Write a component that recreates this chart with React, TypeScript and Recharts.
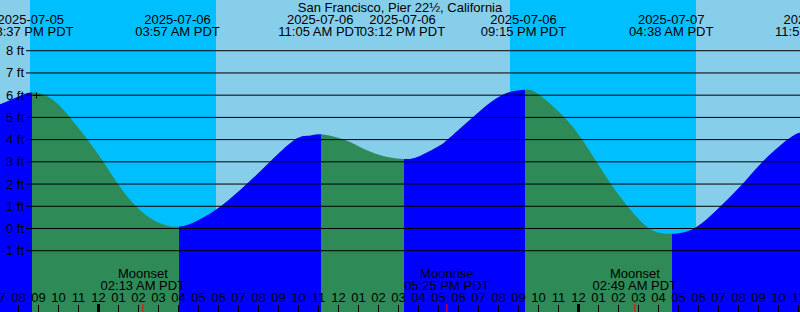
import React from 'react';
import {
  AreaChart,
  Area,
  XAxis,
  YAxis,
  ReferenceArea,
  ReferenceLine,
  ReferenceDot,
} from 'recharts';

// ---------- data (hours measured from 2025-07-06 00:00 PDT) ----------
const X_MIN = -4.925;
const X_MAX = 35.075;
const Y_MIN = -3.758;
const Y_MAX = 10.283;

const tideHours = [
  -4.925, -4.0, -3.34, -2.4, -1.425, -0.56, 0.24, 0.97, 1.875, 2.9, 4.0, 5.0, 6.11,
  7.41, 8.575, 9.825, 10.5, 11.12, 12.33, 13.33, 14.33, 15.27, 16.0, 17.0, 17.45,
  18.7, 20.16, 21.32, 22.0, 23.3, 24.18, 24.9, 25.62, 26.45, 27.55, 28.66, 29.83,
  31.1, 32.2, 33.2, 34.45, 35.075,
];
const tideFeet = [
  5.59, 5.94, 6.12, 5.86, 5.0, 4.0, 3.0, 2.0, 1.0, 0.3, 0.08, 0.38, 1.0,
  2.0, 3.0, 4.0, 4.17, 4.24, 3.98, 3.55, 3.24, 3.13, 3.24, 3.7, 4.0,
  5.0, 6.0, 6.24, 6.04, 5.0, 4.0, 3.0, 2.0, 1.0, 0.0, -0.24, 0.03,
  1.0, 2.0, 3.0, 4.0, 4.32,
];

// turning points of the curve (high, low, high, low, high, low)
const turnHours = [-3.34, 4.0, 11.12, 15.27, 21.32, 28.66];

const eventHours = [-3.383, 3.95, 11.083, 15.2, 21.25, 28.633, 35.917];
const eventDates = [
  '2025-07-05', '2025-07-06', '2025-07-06', '2025-07-06', '2025-07-06', '2025-07-07', '2025-07-07',
];
const eventTimes = [
  '08:37 PM PDT', '03:57 AM PDT', '11:05 AM PDT', '03:12 PM PDT', '09:15 PM PDT', '04:38 AM PDT', '11:55 AM PDT',
];

const nightStart = [-3.425, 20.575];
const nightEnd = [5.875, 29.875];

const moonHours = [2.217, 17.417, 26.817];
const moonNames = ['Moonset', 'Moonrise', 'Moonset'];
const moonTimes = ['02:13 AM PDT', '05:25 PM PDT', '02:49 AM PDT'];

const footTicks = [-1, 0, 1, 2, 3, 4, 5, 6, 7, 8];
const hourTicks = [
  -5, -4, -3, -2, -1, 0, 1, 2, 3, 4, 5, 6, 7, 8, 9, 10, 11, 12, 13, 14, 15, 16, 17, 18, 19,
  20, 21, 22, 23, 24, 25, 26, 27, 28, 29, 30, 31, 32, 33, 34, 35,
];

const markHour = -3.15;
const markFeet = 6.03;
const lineStartHour = -3.625;

const title = 'San Francisco, Pier 22\u00bd, California';

// ---------- styling ----------
const W = 800;
const H = 312;
const FONT = "'Liberation Sans', Arial, sans-serif";
const FS = 13;
const DAY = '#87CEEB';
const NIGHT = '#00BFFF';
const RISE = '#0000FF';
const FALL = '#2E8B57';

const tideData = tideHours.map((t, i) => ({ t, ft: tideFeet[i] }));

const bounds = [X_MIN, ...turnHours, X_MAX];
const frac = (t: number) => (t - X_MIN) / (X_MAX - X_MIN);

const HourTick = (props: any) => {
  const { x, payload } = props;
  const v = payload.value as number;
  const hod = ((v % 24) + 24) % 24;
  const h12 = hod % 12 === 0 ? 12 : hod % 12;
  const label = String(h12).padStart(2, '0');
  const midnight = hod === 0;
  return (
    <g>
      <text x={x} y={302} textAnchor="middle" fontSize={FS} fontFamily={FONT} fill="#000">
        {label}
      </text>
      <line
        x1={x}
        x2={x}
        y1={midnight ? 304 : 305}
        y2={312}
        stroke="#000"
        strokeWidth={midnight ? 3 : 1}
      />
    </g>
  );
};

const MoonTick = (props: any) => {
  const { x, index } = props;
  return (
    <g>
      <text x={x} y={278} textAnchor="middle" fontSize={FS} fontFamily={FONT} fill="#000">
        {moonNames[index]}
      </text>
      <text x={x} y={290} textAnchor="middle" fontSize={FS} fontFamily={FONT} fill="#000">
        {moonTimes[index]}
      </text>
      <line x1={x} x2={x} y1={304} y2={312} stroke="#FF0000" strokeWidth={1} />
    </g>
  );
};

const EventTick = (props: any) => {
  const { x, index } = props;
  return (
    <g>
      <text x={x} y={24} textAnchor="middle" fontSize={FS} fontFamily={FONT} fill="#000">
        {eventDates[index]}
      </text>
      <text x={x} y={36} textAnchor="middle" fontSize={FS} fontFamily={FONT} fill="#000">
        {eventTimes[index]}
      </text>
    </g>
  );
};

const FootTick = (props: any) => {
  const { y, payload } = props;
  return (
    <text x={24} y={y + 4.5} textAnchor="end" fontSize={FS} fontFamily={FONT} fill="#000">
      {`${payload.value} ft`}
    </text>
  );
};

const PlusMark = (props: any) => {
  const { cx, cy } = props;
  const x = Math.round(cx) + 0.5;
  const y = Math.round(cy) + 0.5;
  return <path d={`M${x - 3},${y}h7M${x},${y - 3}v6`} stroke="#000" strokeWidth={1} fill="none" />;
};

export default function App() {
  return (
    <div style={{ position: 'fixed', left: 0, top: 0, width: W, height: H, background: DAY }}>
      <AreaChart
        width={W}
        height={H}
        data={tideData}
        margin={{ top: 0, right: 0, bottom: 0, left: 0 }}
      >
        <defs>
          <linearGradient id="tideFill" x1="0" y1="0" x2="1" y2="0">
            {bounds.slice(0, -1).flatMap((a, i) => {
              const b = bounds[i + 1];
              const c = i % 2 === 0 ? RISE : FALL;
              return [
                <stop key={`a${i}`} offset={frac(a)} stopColor={c} />,
                <stop key={`b${i}`} offset={frac(b)} stopColor={c} />,
              ];
            })}
          </linearGradient>
        </defs>
        <XAxis
          xAxisId={0}
          dataKey="t"
          type="number"
          domain={[X_MIN, X_MAX]}
          allowDataOverflow
          ticks={hourTicks}
          interval={0}
          height={30}
          mirror
          axisLine={false}
          tickLine={false}
          tick={<HourTick />}
        />
        <XAxis
          xAxisId="moon"
          dataKey="t"
          type="number"
          domain={[X_MIN, X_MAX]}
          allowDataOverflow
          ticks={moonHours}
          interval={0}
          height={30}
          mirror
          axisLine={false}
          tickLine={false}
          tick={<MoonTick />}
        />
        <XAxis
          xAxisId="events"
          dataKey="t"
          orientation="top"
          type="number"
          domain={[X_MIN, X_MAX]}
          allowDataOverflow
          ticks={eventHours}
          interval={0}
          height={30}
          mirror
          axisLine={false}
          tickLine={false}
          tick={<EventTick />}
        />
        <YAxis
          type="number"
          domain={[Y_MIN, Y_MAX]}
          allowDataOverflow
          ticks={footTicks}
          interval={0}
          width={30}
          mirror
          axisLine={false}
          tickLine={false}
          tick={<FootTick />}
        />
        {nightStart.map((s, i) => (
          <ReferenceArea
            key={`n${i}`}
            x1={s}
            x2={nightEnd[i]}
            y1={Y_MIN}
            y2={Y_MAX}
            fill={NIGHT}
            fillOpacity={1}
            stroke="none"
            ifOverflow="visible"
            zIndex={50}
          />
        ))}
        <Area
          type="natural"
          dataKey="ft"
          baseValue="dataMin"
          fill="url(#tideFill)"
          fillOpacity={1}
          stroke="none"
          dot={false}
          activeDot={false}
          isAnimationActive={false}
          zIndex={100}
        />
        {footTicks.map((f) => (
          <ReferenceLine
            key={`f${f}`}
            segment={[
              { x: lineStartHour, y: f },
              { x: X_MAX, y: f },
            ]}
            stroke="#000"
            strokeWidth={1}
            zIndex={400}
          />
        ))}
        <ReferenceDot x={markHour} y={markFeet} shape={<PlusMark />} zIndex={600} />
      </AreaChart>
      <svg
        width={W}
        height={H}
        style={{ position: 'absolute', left: 0, top: 0, pointerEvents: 'none' }}
      >
        <text x={400} y={12} textAnchor="middle" fontSize={FS} fontFamily={FONT} fill="#000">
          {title}
        </text>
      </svg>
    </div>
  );
}
